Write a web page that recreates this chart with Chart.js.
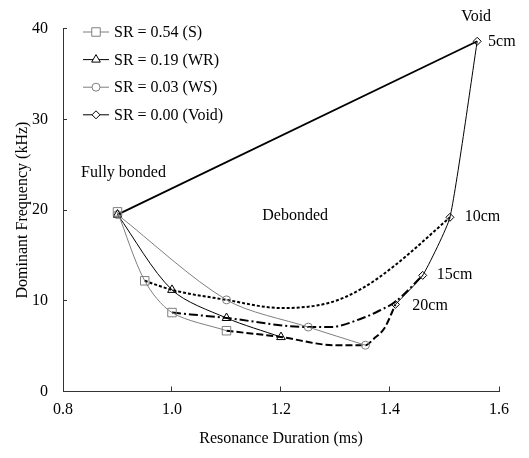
<!DOCTYPE html>
<html>
<head>
<meta charset="utf-8">
<script src="https://cdn.jsdelivr.net/npm/chart.js@4.4.1/dist/chart.umd.min.js"></script>
<style>
  body { margin: 0; background: #fff; }
  canvas { display: block; }
</style>
</head>
<body>
<canvas id="chart" width="529" height="458"></canvas>
<script>
// marker series (resonance duration in ms, dominant frequency in kHz)
const durS = [0.9, 0.95, 1.0, 1.1];
const freqS = [19.8, 12.2, 8.7, 6.7];
const durWR = [0.9, 1.0, 1.1, 1.2];
const freqWR = [19.5, 11.2, 8.1, 6.0];
const durWS = [0.9, 1.1, 1.25, 1.355];
const freqWS = [19.5, 10.1, 7.1, 5.1];
const durVoid = [0.9, 1.56, 1.51, 1.46, 1.41];
const freqVoid = [19.5, 38.6, 19.2, 12.8, 9.6];

// void depth curves
const dur10 = [0.95, 1.0, 1.1, 1.2, 1.29, 1.35, 1.41, 1.51];
const freq10 = [12.2, 11.2, 10.1, 9.2, 9.8, 11.4, 13.95, 19.2];
const dur15 = [1.0, 1.1, 1.25, 1.29, 1.35, 1.38, 1.41, 1.46];
const freq15 = [8.7, 8.1, 7.1, 7.1, 8.1, 8.9, 9.9, 12.8];
const dur20 = [1.1, 1.2, 1.3, 1.355, 1.37, 1.39, 1.41];
const freq20 = [6.7, 6.0, 5.1, 5.1, 5.8, 7.0, 9.6];

const labels = ['SR = 0.54 (S)', 'SR = 0.19 (WR)', 'SR = 0.03 (WS)', 'SR = 0.00 (Void)'];
const xTicks = [0.8, 1.0, 1.2, 1.4, 1.6];
const yTicks = [0, 10, 20, 30, 40];

const pts = (xs, ys) => xs.map((x, i) => ({x: x, y: ys[i]}));
const FONT = 'Liberation Serif, Times New Roman, serif';
const FS = 16;
const GRAY = '#7f7f7f';

function markerSet(label, xs, ys, color, style, r, tension) {
  return {
    label: label, data: pts(xs, ys), showLine: true, tension: tension,
    borderColor: color, borderWidth: 1, backgroundColor: '#fff',
    pointStyle: style, pointRadius: r, pointBorderColor: color,
    pointBackgroundColor: 'rgba(255,255,255,0)', pointBorderWidth: 1
  };
}
function curveSet(xs, ys, dash, width) {
  return {
    label: '', data: pts(xs, ys), showLine: true, cubicInterpolationMode: 'monotone',
    borderColor: '#000', borderWidth: width, borderDash: dash, pointRadius: 0, noLegend: true
  };
}

const datasets = [
  markerSet(labels[0], durS, freqS, GRAY, 'rect', 6, 0.3),
  markerSet(labels[1], durWR, freqWR, '#000', 'triangle', 5, 0.3),
  markerSet(labels[2], durWS, freqWS, GRAY, 'circle', 4, 0.3),
  markerSet(labels[3], durVoid.slice(1), freqVoid.slice(1), '#000', 'rectRot', 4, 0.15),
  {label: '', data: pts(durVoid.slice(0, 2), freqVoid.slice(0, 2)), showLine: true,
   borderColor: '#000', borderWidth: 1.8, pointRadius: 0, noLegend: true},
  curveSet(dur10, freq10, [3, 2], 2),
  curveSet(dur15, freq15, [9, 3, 2, 3], 2),
  curveSet(dur20, freq20, [7, 3], 2)
];
datasets.forEach(d => { d.order = d.noLegend ? 1 : 0; });

// legend box drawn in the top left of the plot
const legendPlugin = {
  id: 'seriesLegend',
  afterDraw(chart) {
    const ctx = chart.ctx;
    ctx.save();
    ctx.font = FS + 'px ' + FONT;
    ctx.textBaseline = 'middle';
    let y = 32;
    chart.data.datasets.forEach(ds => {
      if (ds.noLegend) return;
      ctx.strokeStyle = ds.borderColor;
      ctx.lineWidth = 1;
      ctx.beginPath(); ctx.moveTo(83, y); ctx.lineTo(109, y); ctx.stroke();
      ctx.fillStyle = '#fff';
      Chart.helpers.drawPoint(ctx, {pointStyle: ds.pointStyle, radius: ds.pointRadius, rotation: 0, borderWidth: 1}, 96, y);
      ctx.fillStyle = '#000';
      ctx.fillText(ds.label, 114, y + 1);
      y += 27.6;
    });
    ctx.restore();
  }
};

// text notes placed in data coordinates
const notes = [
  {t: 'Fully bonded', x: 0.911, y: 24.1, a: 'center'},
  {t: 'Debonded', x: 1.226, y: 19.4, a: 'center'},
  {t: 'Void', x: 1.558, y: 41.3, a: 'center'},
  {t: '5cm', x: 1.58, y: 38.5, a: 'left'},
  {t: '10cm', x: 1.537, y: 19.3, a: 'left'},
  {t: '15cm', x: 1.486, y: 12.9, a: 'left'},
  {t: '20cm', x: 1.441, y: 9.5, a: 'left'}
];
const notePlugin = {
  id: 'notes',
  afterDraw(chart) {
    const ctx = chart.ctx, sx = chart.scales.x, sy = chart.scales.y;
    ctx.save();
    ctx.font = FS + 'px ' + FONT;
    ctx.fillStyle = '#000';
    ctx.textBaseline = 'middle';
    notes.forEach(n => {
      ctx.textAlign = n.a;
      ctx.fillText(n.t, sx.getPixelForValue(n.x), sy.getPixelForValue(n.y));
    });
    ctx.restore();
  }
};

new Chart(document.getElementById('chart'), {
  type: 'scatter',
  data: {datasets: datasets},
  options: {
    responsive: false,
    animation: false,
    devicePixelRatio: 1,
    layout: {padding: {top: 22, right: 30, left: 0, bottom: 0}},
    plugins: {legend: {display: false}, tooltip: {enabled: false}},
    scales: {
      x: {
        type: 'linear', min: 0.8, max: 1.6,
        afterFit(s) { s.height = 66.5; },
        afterBuildTicks(s) { s.ticks = xTicks.map(v => ({value: v})); },
        ticks: {color: '#000', font: {family: FONT, size: FS}, padding: 14,
                callback: v => v.toFixed(1)},
        grid: {drawOnChartArea: false, drawTicks: true, tickLength: -5, color: '#333'},
        border: {color: '#333', width: 1},
        title: {display: true, text: 'Resonance Duration (ms)', color: '#000',
                font: {family: FONT, size: FS}, padding: {top: 0, bottom: 10}}
      },
      y: {
        type: 'linear', min: 0, max: 40,
        afterFit(s) { s.width = 63; },
        afterBuildTicks(s) { s.ticks = yTicks.map(v => ({value: v})); },
        ticks: {color: '#000', font: {family: FONT, size: FS}, padding: 19},
        grid: {drawOnChartArea: false, drawTicks: true, tickLength: -4, color: '#333'},
        border: {color: '#333', width: 1},
        title: {display: true, text: 'Dominant Frequency (kHz)', color: '#000',
                font: {family: FONT, size: FS}, padding: {top: 13, bottom: 0}}
      }
    }
  },
  plugins: [legendPlugin, notePlugin]
});
</script>
</body>
</html>
